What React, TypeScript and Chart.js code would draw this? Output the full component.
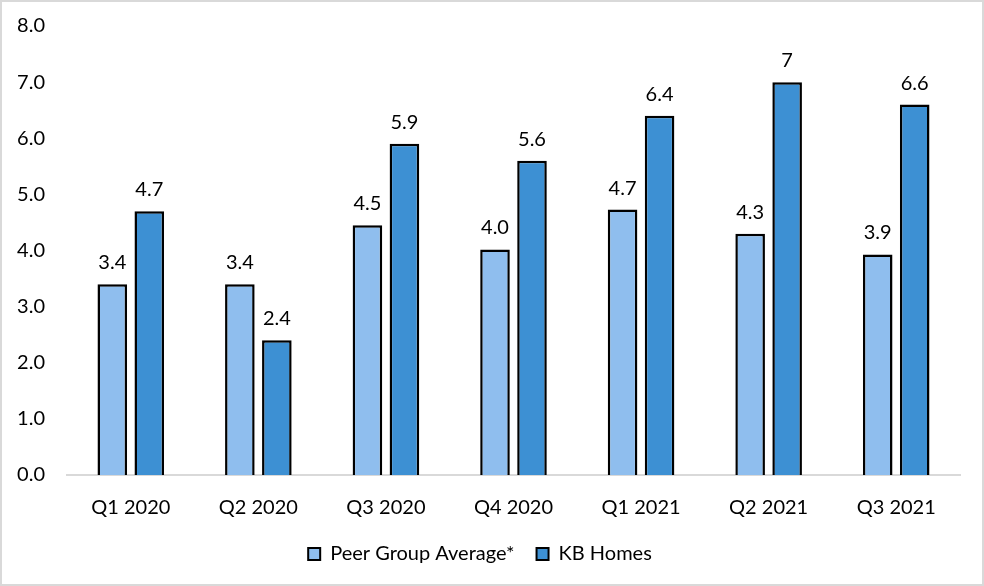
import React, { useEffect, useRef } from "react";
import { Chart, registerables } from "chart.js";

Chart.register(...registerables);

const categories = ["Q1 2020", "Q2 2020", "Q3 2020", "Q4 2020", "Q1 2021", "Q2 2021", "Q3 2021"];
const peerValues = [3.4, 3.4, 4.45, 4.02, 4.73, 4.3, 3.93];
const kbValues = [4.7, 2.4, 5.9, 5.6, 6.4, 7, 6.6];
const peerLabels = ["3.4", "3.4", "4.5", "4.0", "4.7", "4.3", "3.9"];
const kbLabels = ["4.7", "2.4", "5.9", "5.6", "6.4", "7", "6.6"];
const yTicks = [0, 1, 2, 3, 4, 5, 6, 7, 8];

const FONT = "Lato, 'Open Sans', sans-serif";
const SIZE = 20;

const labelPlugin = {
  id: "barLabels",
  afterDatasetsDraw(chart: any) {
    const ctx = chart.ctx;
    const sets = [peerLabels, kbLabels];
    ctx.save();
    ctx.font = `${SIZE}px ${FONT}`;
    ctx.fillStyle = "#000";
    ctx.textAlign = "center";
    ctx.textBaseline = "alphabetic";
    chart.data.datasets.forEach((_: any, di: number) => {
      const meta = chart.getDatasetMeta(di);
      meta.data.forEach((el: any, i: number) => {
        ctx.fillText(sets[di][i], el.x, el.y - 15);
      });
    });
    ctx.restore();
  },
};

const framePlugin = {
  id: "frame",
  afterDraw(chart: any) {
    const ctx = chart.ctx;
    ctx.save();
    ctx.strokeStyle = "#d9d9d9";
    ctx.lineWidth = 2;
    ctx.strokeRect(1, 1, chart.width - 2, chart.height - 2);
    ctx.restore();
  },
};

export default function App() {
  const ref = useRef<HTMLCanvasElement | null>(null);
  useEffect(() => {
    document.body.style.margin = "0";
    const chart = new Chart(ref.current as HTMLCanvasElement, {
      type: "bar",
      data: {
        labels: categories,
        datasets: [
          {
            label: "Peer Group Average*",
            data: peerValues,
            backgroundColor: "#8fbeee",
            borderColor: "#000",
            borderWidth: 2.5,
            categoryPercentage: 0.58,
            barPercentage: 0.8,
          },
          {
            label: "KB Homes",
            data: kbValues,
            backgroundColor: "#3d90d3",
            borderColor: "#000",
            borderWidth: 2.5,
            categoryPercentage: 0.58,
            barPercentage: 0.8,
          },
        ],
      },
      options: {
        animation: false,
        responsive: false,
        maintainAspectRatio: false,
        layout: { padding: { left: 0, right: 24, top: 16, bottom: 12 } },
        plugins: {
          tooltip: { enabled: false },
          legend: {
            position: "bottom",
            labels: {
              color: "#000",
              font: { family: FONT, size: SIZE },
              boxWidth: 12,
              boxHeight: 12,
              padding: 22,
              useBorderRadius: false,
              generateLabels: (c: any) =>
                c.data.datasets.map((ds: any, i: number) => ({
                  text: ds.label,
                  fillStyle: ds.backgroundColor,
                  strokeStyle: "#000",
                  lineWidth: 2,
                  fontColor: "#000",
                  datasetIndex: i,
                  hidden: false,
                })),
            },
          },
        },
        scales: {
          x: {
            afterFit: (s: any) => {
              s.height = s.height - 11;
            },
            grid: { display: false },
            border: { display: true, color: "#d9d9d9", width: 2 },
            ticks: { color: "#000", font: { family: FONT, size: SIZE }, padding: 13, maxRotation: 0 },
          },
          y: {
            min: 0,
            max: 8,
            afterFit: (s: any) => {
              s.width = 67;
            },
            afterBuildTicks: (s: any) => {
              s.ticks = yTicks.map((v) => ({ value: v }));
            },
            grid: { display: false },
            border: { display: false },
            ticks: {
              color: "#000",
              font: { family: FONT, size: SIZE },
              padding: 14,
              callback: (v: any) => Number(v).toFixed(1),
            },
          },
        },
      },
      plugins: [labelPlugin, framePlugin],
    });
    return () => chart.destroy();
  }, []);
  return (
    <div style={{ width: 984, height: 586, background: "#fff" }}>
      <canvas ref={ref} width={984} height={586} style={{ display: "block" }} />
    </div>
  );
}
